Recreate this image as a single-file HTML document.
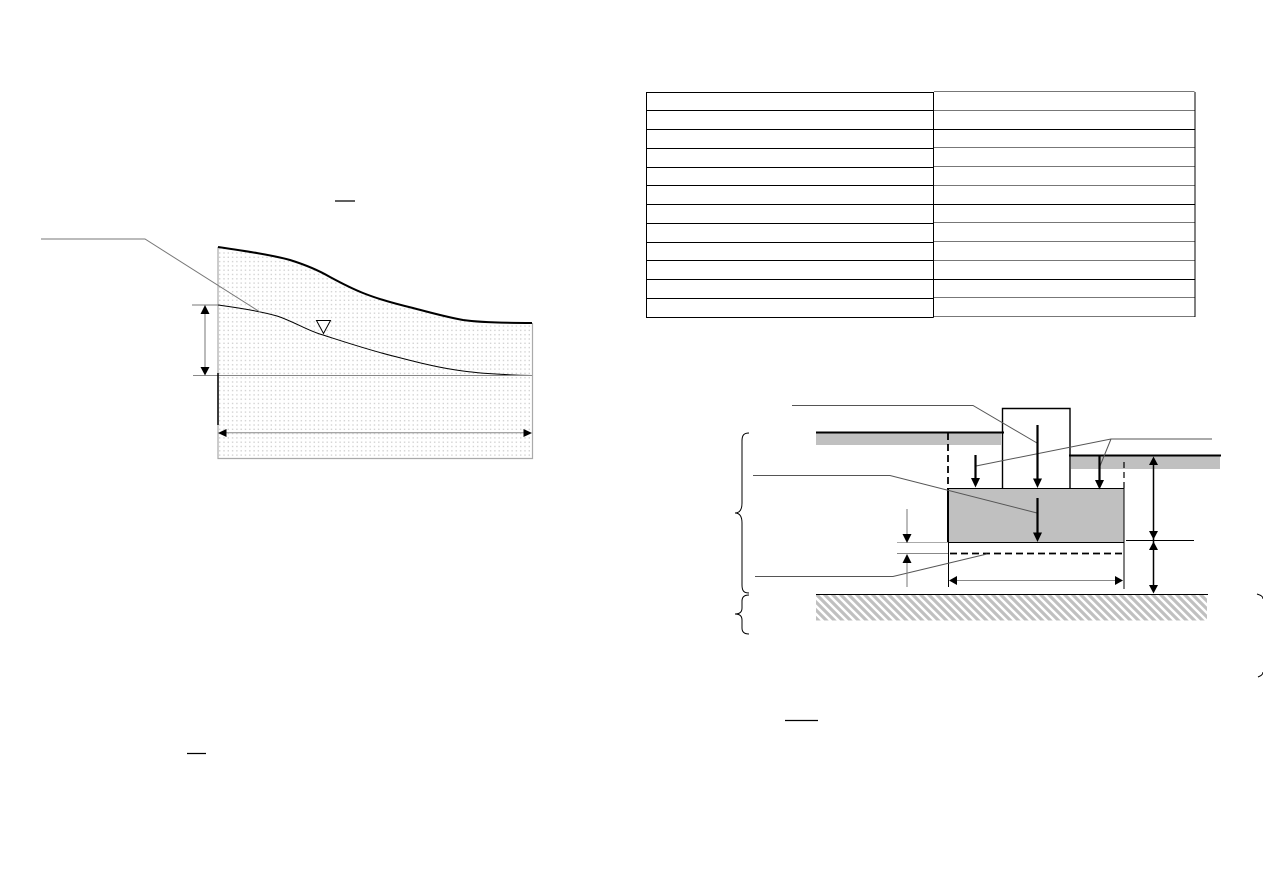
<!DOCTYPE html>
<html><head><meta charset="utf-8"><style>
html,body{margin:0;padding:0;background:#fff;width:1263px;height:893px;overflow:hidden}
svg{display:block}
</style></head><body>
<svg width="1263" height="893" viewBox="0 0 1263 893" xmlns="http://www.w3.org/2000/svg">
<defs>
<pattern id="dots" width="4.3" height="4.3" patternUnits="userSpaceOnUse" x="218" y="247">
<rect x="1" y="1" width="1.4" height="1.4" fill="#d2d2d2"/>
</pattern>
<pattern id="hatch" width="8" height="8" patternUnits="userSpaceOnUse" patternTransform="translate(816 594)">
<path d="M-2 2L2 -2M-2 10L10 -2M6 10L10 6" transform="matrix(-1 0 0 1 8 0)" stroke="#c0c0c0" stroke-width="3.2" fill="none"/>
</pattern>
</defs>
<rect width="1263" height="893" fill="#fff"/>

<!-- short rules -->
<g stroke="#000" stroke-width="1.2">
<line x1="335" y1="201" x2="355" y2="201"/>
<line x1="187" y1="753.5" x2="206" y2="753.5"/>
<line x1="785" y1="720.5" x2="818" y2="720.5"/>
</g>

<!-- Left diagram -->
<path d="M218 247C245 251 272 255 290 260C306 265 318 270 330 277C342 283.500 352 288.600 363 293C378 299 396 304 413 308C430 312.500 446 317 463 320C480 322.500 505 323 532.500 323V458.500H218Z" fill="url(#dots)"/>
<path d="M218 247V458.500H532.500V323" fill="none" stroke="#aaa" stroke-width="1.200"/>
<path d="M218 247C245 251 272 255 290 260C306 265 318 270 330 277C342 283.500 352 288.600 363 293C378 299 396 304 413 308C430 312.500 446 317 463 320C480 322.500 505 323 532 323" fill="none" stroke="#000" stroke-width="2"/>
<path d="M218 305C240 308 260 311 277 316C295 322 308 331 323 335C348 343 372 351 397 357C420 363 440 368 463 371C485 374 510 375 532 375.500" fill="none" stroke="#000" stroke-width="1"/>
<path d="M316.500 320.500H330.500L323.500 333.500Z" fill="#fff" stroke="#000" stroke-width="1"/>
<path d="M41 239H145L260 312" fill="none" stroke="#777" stroke-width="1"/>
<line x1="192" y1="305" x2="218" y2="305" stroke="#777"/>
<line x1="193" y1="375.500" x2="532" y2="375.500" stroke="#888"/>
<line x1="218" y1="373" x2="218" y2="425" stroke="#000" stroke-width="1.500"/>
<line x1="205" y1="310" x2="205" y2="370" stroke="#777" stroke-width="1"/>
<path d="M205 305L209.500 314H200.500Z M205 375.500L209.500 367H200.500Z" fill="#000"/>
<line x1="224" y1="432.800" x2="526" y2="432.800" stroke="#888" stroke-width="1"/>
<path d="M218 433L226.500 429V437Z M532 433L523.500 429V437Z" fill="#000"/>

<!-- Table -->
<g fill="none" stroke="#000" stroke-width="1">
<path d="M646.500 92V317.500H933.500M933.500 92V317.500M1195 92V317"/>
<path d="M646 92.500H933.500M646 110.500H933.500M646 129.500H1195M646 148.500H933.500M646 167.500H933.500M646 185.500H933.500M646 204.500H1195M646 223.500H933.500M646 242.500H933.500M646 260.500H933.500M646 279.500H1195M646 298.500H933.500"/>
</g>
<g fill="none" stroke="#777" stroke-width="1">
<path d="M934 91.500H1194.500M934 110.500H1194.500M934 147.500H1194.500M934 166.500H1194.500M934 185.500H1194.500M934 222.500H1194.500M934 241.500H1194.500M934 260.500H1194.500M934 297.500H1194.500M934 316.500H1194.500"/>
</g>

<!-- Right diagram: ground -->
<rect x="816" y="433" width="185" height="12" fill="#c0c0c0"/>
<rect x="1071" y="456" width="149" height="13" fill="#c0c0c0"/>
<rect x="816" y="595" width="391" height="25.500" fill="url(#hatch)"/>
<line x1="816" y1="432.500" x2="1004" y2="432.500" stroke="#000" stroke-width="2"/>
<line x1="1069" y1="455.500" x2="1221" y2="455.500" stroke="#000" stroke-width="2"/>
<line x1="816" y1="594.500" x2="1208" y2="594.500" stroke="#000" stroke-width="1"/>

<!-- Column & slab -->
<path d="M1002.500 488V408.500H1070V488" fill="none" stroke="#000" stroke-width="1.400"/>
<rect x="948" y="488.500" width="176" height="54" fill="#c0c0c0" stroke="#000" stroke-width="1"/>
<line x1="948" y1="488" x2="948" y2="543" stroke="#000" stroke-width="2"/>

<!-- Dashed -->
<line x1="948" y1="433" x2="948" y2="488" stroke="#000" stroke-width="1.800" stroke-dasharray="7 4"/>
<line x1="1124" y1="462" x2="1124" y2="488" stroke="#000" stroke-width="1.200" stroke-dasharray="6 4"/>
<line x1="950" y1="553.500" x2="1124" y2="553.500" stroke="#000" stroke-width="1.800" stroke-dasharray="7 4"/>

<!-- Thin verticals -->
<line x1="948.500" y1="543" x2="948.500" y2="587" stroke="#000" stroke-width="1"/>
<line x1="1124" y1="543" x2="1124" y2="589" stroke="#000" stroke-width="1"/>

<!-- Leaders -->
<g fill="none" stroke="#555" stroke-width="1">
<path d="M792 405.500H973L1037 443"/>
<path d="M1212 439H1111L976 466M1111 439L1100 466"/>
<path d="M753 475.500H890L1037 513"/>
<path d="M755 576.500H893L987 554"/>
</g>

<!-- Load arrows -->
<g stroke="#000" stroke-width="2.200">
<line x1="975.500" y1="455" x2="975.500" y2="482"/>
<line x1="1037.500" y1="425" x2="1037.500" y2="482"/>
<line x1="1099.500" y1="456" x2="1099.500" y2="484"/>
<line x1="1037.500" y1="498" x2="1037.500" y2="536"/>
</g>
<path d="M975.500 487.500L971 478H980Z M1037.500 488L1033 478.500H1042Z M1099.500 489.500L1095 480H1104Z M1037.500 542L1033 532.500H1042Z" fill="#000"/>

<!-- Right dimension arrows -->
<line x1="1126" y1="540.500" x2="1194" y2="540.500" stroke="#000" stroke-width="1"/>
<line x1="1153.500" y1="460" x2="1153.500" y2="590" stroke="#000" stroke-width="1.500"/>
<path d="M1153.500 456.500L1158 465H1149Z M1153.500 539.500L1158 531H1149Z M1153.500 541.500L1158 550H1149Z M1153.500 593.500L1158 585H1149Z" fill="#000"/>

<!-- Small dim -->
<line x1="897" y1="542.500" x2="948" y2="542.500" stroke="#aaa" stroke-width="1"/>
<line x1="897" y1="553.500" x2="948" y2="553.500" stroke="#888" stroke-width="1"/>
<line x1="907" y1="509" x2="907" y2="536" stroke="#777" stroke-width="1"/>
<line x1="907" y1="560" x2="907" y2="587" stroke="#777" stroke-width="1"/>
<path d="M907 543L911.500 534H902.500Z M907 554L911.500 563H902.500Z" fill="#000"/>

<!-- Horizontal dim -->
<line x1="954" y1="580.500" x2="1118" y2="580.500" stroke="#888" stroke-width="1"/>
<path d="M949 580.500L957 576V585Z M1123 580.500L1115 576V585Z" fill="#000"/>

<!-- Braces -->
<g fill="none" stroke="#000" stroke-width="1">
<path d="M749 433C744 433 742 435 742 441V503C742 509 740 513 735 513C740 513 742 517 742 523V585C742 591 744 593 749 593"/>
<path d="M749 595C744 595 742 597 742 601V608C742 612 740 614 735 614C740 614 742 616 742 620V628C742 632 744 634 749 634"/>
<path d="M1257 594C1260 595 1263 596 1263 599"/>
<path d="M1258 677C1260 676 1263 675 1263 672"/>
</g>
</svg>
</body></html>
